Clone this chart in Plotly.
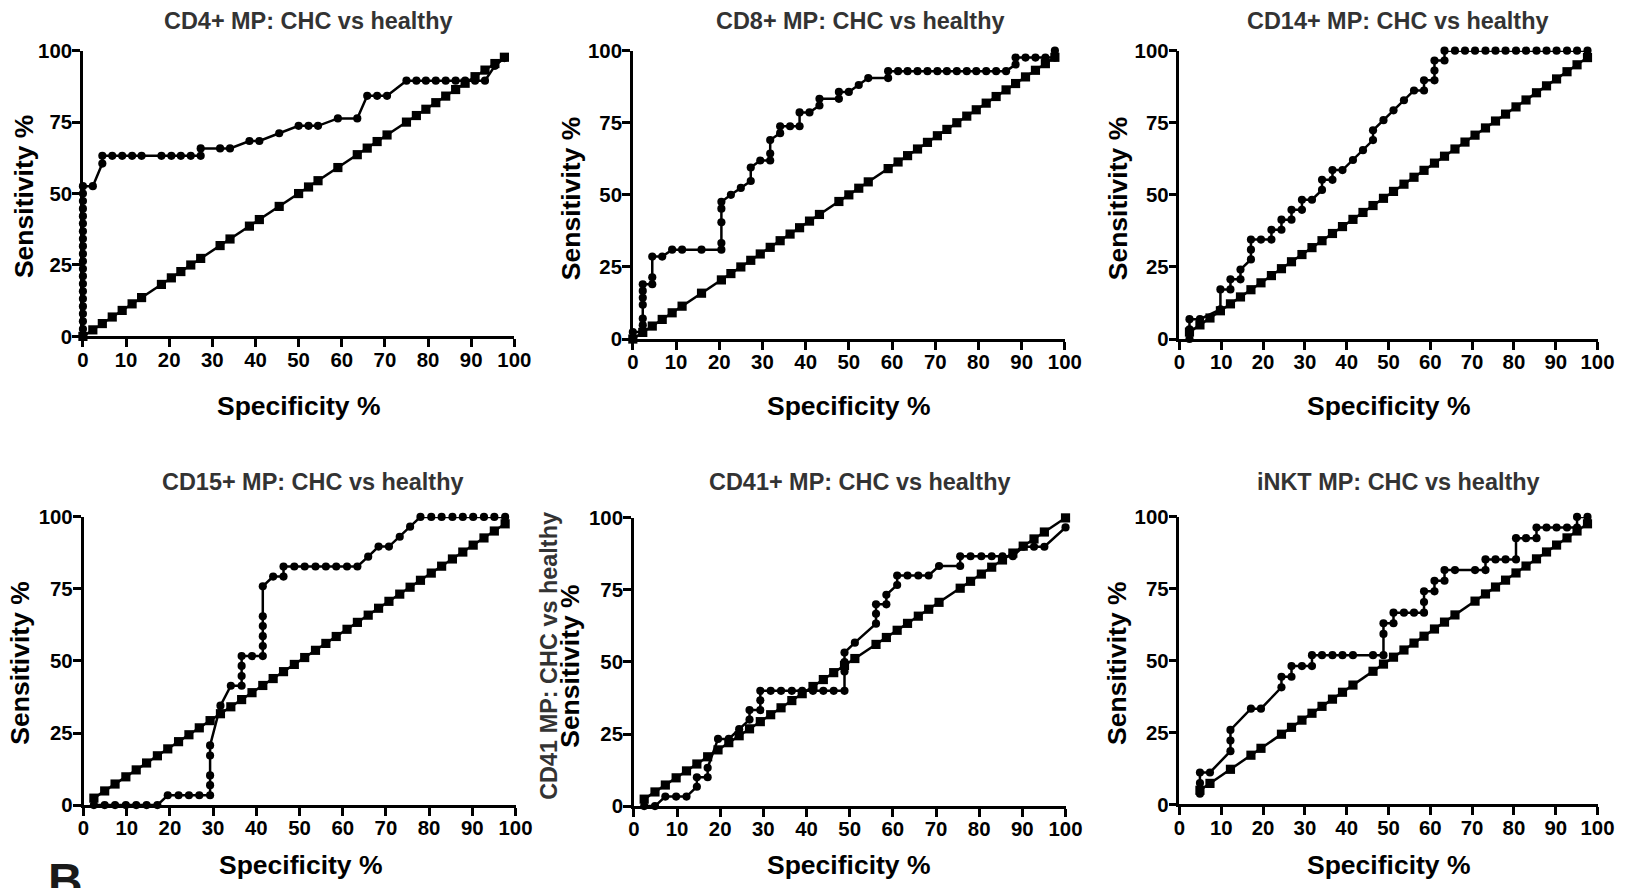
import plotly.graph_objects as go

# ---------------- data ----------------
panel_titles = ["CD4+ MP: CHC vs healthy", "CD8+ MP: CHC vs healthy", "CD14+ MP: CHC vs healthy",
                "CD15+ MP: CHC vs healthy", "CD41+ MP: CHC vs healthy", "iNKT MP: CHC vs healthy"]
x_tick_vals = [0, 10, 20, 30, 40, 50, 60, 70, 80, 90, 100]
y_tick_vals = [0, 25, 50, 75, 100]
x_title = "Specificity %"
y_title = "Sensitivity %"
extra_y_label = "CD41 MP: CHC vs healthy"
panel_letter = "B"

# CD4+
cd4_roc_x = [0, 0, 0, 0, 0, 0, 0, 0, 0, 0, 0, 0, 0, 0, 0, 0, 0, 0, 0, 0, 0, 2.3, 4.5, 4.5, 6.8, 9.1, 11.4,
             13.6, 18.2, 20.5, 22.7, 25.0, 27.3, 27.3, 31.8, 34.1, 38.6, 40.9, 45.5, 50.0, 52.3, 54.5, 59.1,
             63.6, 65.9, 68.2, 70.5, 75.0, 77.3, 79.5, 81.8, 84.1, 86.4, 88.6, 90.9, 93.2, 95.5, 97.7]
cd4_roc_y = [0, 2.6, 5.3, 7.9, 10.5, 13.2, 15.8, 18.4, 21.1, 23.7, 26.3, 28.9, 31.6, 34.2, 36.8, 39.5, 42.1,
             44.7, 47.4, 50.0, 52.6, 52.6, 60.5, 63.2, 63.2, 63.2, 63.2, 63.2, 63.2, 63.2, 63.2, 63.2, 63.2,
             65.8, 65.8, 65.8, 68.4, 68.4, 71.1, 73.7, 73.7, 73.7, 76.3, 76.3, 84.2, 84.2, 84.2, 89.5, 89.5,
             89.5, 89.5, 89.5, 89.5, 89.5, 89.5, 89.5, 94.7, 97.4]
cd4_ref_x = [0, 2.3, 4.5, 6.8, 9.1, 11.4, 13.6, 18.2, 20.5, 22.7, 25.0, 27.3, 31.8, 34.1, 38.6, 40.9, 45.5,
             50.0, 52.3, 54.5, 59.1, 63.6, 65.9, 68.2, 70.5, 75.0, 77.3, 79.5, 81.8, 84.1, 86.4, 88.6, 90.9,
             93.2, 95.5, 97.7]
cd4_ref_y = [0, 2.3, 4.5, 6.8, 9.1, 11.4, 13.6, 18.2, 20.5, 22.7, 25.0, 27.3, 31.8, 34.1, 38.6, 40.9, 45.5,
             50.0, 52.3, 54.5, 59.1, 63.6, 65.9, 68.2, 70.5, 75.0, 77.3, 79.5, 81.8, 84.1, 86.4, 88.6, 90.9,
             93.2, 95.5, 97.7]

# CD8+
cd8_roc_x = [0, 0, 2.3, 2.3, 2.3, 2.3, 2.3, 2.3, 2.3, 4.5, 4.5, 4.5, 6.8, 9.1, 11.4, 15.9, 20.5, 20.5, 20.5,
             20.5, 20.5, 22.7, 25.0, 27.3, 27.3, 29.5, 31.8, 31.8, 31.8, 34.1, 34.1, 36.4, 38.6, 38.6, 40.9,
             43.2, 43.2, 47.7, 47.7, 50.0, 52.3, 54.5, 59.1, 59.1, 61.4, 63.6, 65.9, 68.2, 70.5, 72.7, 75.0,
             77.3, 79.5, 81.8, 84.1, 86.4, 88.6, 88.6, 90.9, 93.2, 95.5, 97.7, 97.7]
cd8_roc_y = [0, 2.4, 2.4, 4.8, 7.1, 11.9, 14.3, 16.7, 19.0, 19.0, 21.4, 28.6, 28.6, 31.0, 31.0, 31.0, 31.0,
             33.3, 40.5, 45.2, 47.6, 50.0, 52.4, 54.8, 59.5, 61.9, 61.9, 64.3, 69.0, 71.4, 73.8, 73.8, 73.8,
             78.6, 78.6, 81.0, 83.3, 83.3, 85.7, 85.7, 88.1, 90.5, 90.5, 92.9, 92.9, 92.9, 92.9, 92.9, 92.9,
             92.9, 92.9, 92.9, 92.9, 92.9, 92.9, 92.9, 95.2, 97.6, 97.6, 97.6, 97.6, 97.6, 100]
cd8_ref_x = [0, 2.3, 4.5, 6.8, 9.1, 11.4, 15.9, 20.5, 22.7, 25.0, 27.3, 29.5, 31.8, 34.1, 36.4, 38.6, 40.9,
             43.2, 47.7, 50.0, 52.3, 54.5, 59.1, 61.4, 63.6, 65.9, 68.2, 70.5, 72.7, 75.0, 77.3, 79.5, 81.8,
             84.1, 86.4, 88.6, 90.9, 93.2, 95.5, 97.7]
cd8_ref_y = [0, 2.3, 4.5, 6.8, 9.1, 11.4, 15.9, 20.5, 22.7, 25.0, 27.3, 29.5, 31.8, 34.1, 36.4, 38.6, 40.9,
             43.2, 47.7, 50.0, 52.3, 54.5, 59.1, 61.4, 63.6, 65.9, 68.2, 70.5, 72.7, 75.0, 77.3, 79.5, 81.8,
             84.1, 86.4, 88.6, 90.9, 93.2, 95.5, 97.7]

# CD14+
cd14_roc_x = [2.4, 2.4, 2.4, 4.9, 9.8, 9.8, 12.2, 12.2, 14.6, 14.6, 17.1, 17.1, 17.1, 19.5, 22.0, 22.0, 24.4,
              24.4, 26.8, 26.8, 29.3, 29.3, 31.7, 34.1, 34.1, 36.6, 36.6, 39.0, 41.5, 43.9, 46.3, 46.3, 48.8,
              51.2, 53.7, 56.1, 58.5, 58.5, 61.0, 61.0, 61.0, 63.4, 63.4, 65.9, 68.3, 70.7, 73.2, 75.6, 78.0,
              80.5, 82.9, 85.4, 87.8, 90.2, 92.7, 95.1, 97.6]
cd14_roc_y = [0, 3.4, 6.9, 6.9, 10.3, 17.2, 17.2, 20.7, 20.7, 24.1, 27.6, 31.0, 34.5, 34.5, 34.5, 37.9, 37.9,
              41.4, 41.4, 44.8, 44.8, 48.3, 48.3, 51.7, 55.2, 55.2, 58.6, 58.6, 62.1, 65.5, 69.0, 72.4, 75.9,
              79.3, 82.8, 86.2, 86.2, 89.7, 89.7, 93.1, 96.6, 96.6, 100, 100, 100, 100, 100, 100, 100, 100,
              100, 100, 100, 100, 100, 100, 100]
cd14_ref_x = [2.4, 4.9, 7.3, 9.8, 12.2, 14.6, 17.1, 19.5, 22.0, 24.4, 26.8, 29.3, 31.7, 34.1, 36.6, 39.0,
              41.5, 43.9, 46.3, 48.8, 51.2, 53.7, 56.1, 58.5, 61.0, 63.4, 65.9, 68.3, 70.7, 73.2, 75.6, 78.0,
              80.5, 82.9, 85.4, 87.8, 90.2, 92.7, 95.1, 97.6]
cd14_ref_y = [2.4, 4.9, 7.3, 9.8, 12.2, 14.6, 17.1, 19.5, 22.0, 24.4, 26.8, 29.3, 31.7, 34.1, 36.6, 39.0,
              41.5, 43.9, 46.3, 48.8, 51.2, 53.7, 56.1, 58.5, 61.0, 63.4, 65.9, 68.3, 70.7, 73.2, 75.6, 78.0,
              80.5, 82.9, 85.4, 87.8, 90.2, 92.7, 95.1, 97.6]

# CD15+
cd15_roc_x = [2.4, 4.9, 7.3, 9.8, 12.2, 14.6, 17.1, 19.5, 22.0, 24.4, 26.8, 29.3, 29.3, 29.3, 29.3, 29.3,
              31.7, 34.1, 36.6, 36.6, 36.6, 36.6, 39.0, 41.5, 41.5, 41.5, 41.5, 41.5, 41.5, 43.9, 46.3, 46.3,
              48.8, 51.2, 53.7, 56.1, 58.5, 61.0, 63.4, 65.9, 68.3, 70.7, 73.2, 75.6, 78.0, 80.5, 82.9, 85.4,
              87.8, 90.2, 92.7, 95.1, 97.6]
cd15_roc_y = [0, 0, 0, 0, 0, 0, 0, 3.4, 3.4, 3.4, 3.4, 3.4, 6.9, 10.3, 17.2, 20.7, 34.5, 41.4, 41.4, 44.8,
              48.3, 51.7, 51.7, 51.7, 55.2, 58.6, 62.1, 65.5, 75.9, 79.3, 79.3, 82.8, 82.8, 82.8, 82.8, 82.8,
              82.8, 82.8, 82.8, 86.2, 89.7, 89.7, 93.1, 96.6, 100, 100, 100, 100, 100, 100, 100, 100, 100]
cd15_ref_x = [2.4, 4.9, 7.3, 9.8, 12.2, 14.6, 17.1, 19.5, 22.0, 24.4, 26.8, 29.3, 31.7, 34.1, 36.6, 39.0,
              41.5, 43.9, 46.3, 48.8, 51.2, 53.7, 56.1, 58.5, 61.0, 63.4, 65.9, 68.3, 70.7, 73.2, 75.6, 78.0,
              80.5, 82.9, 85.4, 87.8, 90.2, 92.7, 95.1, 97.6]
cd15_ref_y = [2.4, 4.9, 7.3, 9.8, 12.2, 14.6, 17.1, 19.5, 22.0, 24.4, 26.8, 29.3, 31.7, 34.1, 36.6, 39.0,
              41.5, 43.9, 46.3, 48.8, 51.2, 53.7, 56.1, 58.5, 61.0, 63.4, 65.9, 68.3, 70.7, 73.2, 75.6, 78.0,
              80.5, 82.9, 85.4, 87.8, 90.2, 92.7, 95.1, 97.6]

# CD41+
cd41_roc_x = [2.4, 4.9, 7.3, 9.8, 12.2, 14.6, 14.6, 17.1, 17.1, 19.5, 22.0, 24.4, 26.8, 26.8, 29.3, 29.3,
              29.3, 31.7, 34.1, 36.6, 39.0, 41.5, 43.9, 46.3, 48.8, 48.8, 48.8, 48.8, 51.2, 56.1, 56.1, 56.1,
              58.5, 58.5, 61.0, 61.0, 63.4, 65.9, 68.3, 70.7, 75.6, 75.6, 78.0, 80.5, 82.9, 85.4, 87.8, 90.2,
              92.7, 95.1, 100]
cd41_roc_y = [0, 0, 3.3, 3.3, 3.3, 6.7, 10.0, 10.0, 13.3, 23.3, 23.3, 26.7, 30.0, 33.3, 33.3, 36.7, 40.0,
              40.0, 40.0, 40.0, 40.0, 40.0, 40.0, 40.0, 40.0, 46.7, 50.0, 53.3, 56.7, 63.3, 66.7, 70.0, 70.0,
              73.3, 76.7, 80.0, 80.0, 80.0, 80.0, 83.3, 83.3, 86.7, 86.7, 86.7, 86.7, 86.7, 86.7, 90.0, 90.0,
              90.0, 96.7]
cd41_ref_x = [2.4, 4.9, 7.3, 9.8, 12.2, 14.6, 17.1, 19.5, 22.0, 24.4, 26.8, 29.3, 31.7, 34.1, 36.6, 39.0,
              41.5, 43.9, 46.3, 48.8, 51.2, 56.1, 58.5, 61.0, 63.4, 65.9, 68.3, 70.7, 75.6, 78.0, 80.5, 82.9,
              85.4, 87.8, 90.2, 92.7, 95.1, 100]
cd41_ref_y = [2.4, 4.9, 7.3, 9.8, 12.2, 14.6, 17.1, 19.5, 22.0, 24.4, 26.8, 29.3, 31.7, 34.1, 36.6, 39.0,
              41.5, 43.9, 46.3, 48.8, 51.2, 56.1, 58.5, 61.0, 63.4, 65.9, 68.3, 70.7, 75.6, 78.0, 80.5, 82.9,
              85.4, 87.8, 90.2, 92.7, 95.1, 100]

# iNKT
inkt_roc_x = [4.9, 4.9, 4.9, 7.3, 12.2, 12.2, 12.2, 17.1, 19.5, 24.4, 24.4, 26.8, 26.8, 29.3, 31.7, 31.7,
              34.1, 36.6, 39.0, 41.5, 46.3, 48.8, 48.8, 48.8, 51.2, 51.2, 53.7, 56.1, 58.5, 58.5, 58.5, 61.0,
              61.0, 63.4, 63.4, 65.9, 70.7, 73.2, 73.2, 75.6, 78.0, 80.5, 80.5, 82.9, 85.4, 85.4, 87.8, 90.2,
              92.7, 95.1, 95.1, 97.6]
inkt_roc_y = [3.7, 7.4, 11.1, 11.1, 18.5, 22.2, 25.9, 33.3, 33.3, 40.7, 44.4, 44.4, 48.1, 48.1, 48.1, 51.9,
              51.9, 51.9, 51.9, 51.9, 51.9, 51.9, 59.3, 63.0, 63.0, 66.7, 66.7, 66.7, 66.7, 70.4, 74.1, 74.1,
              77.8, 77.8, 81.5, 81.5, 81.5, 81.5, 85.2, 85.2, 85.2, 85.2, 92.6, 92.6, 92.6, 96.3, 96.3, 96.3,
              96.3, 96.3, 100, 100]
inkt_ref_x = [4.9, 7.3, 12.2, 17.1, 19.5, 24.4, 26.8, 29.3, 31.7, 34.1, 36.6, 39.0, 41.5, 46.3, 48.8, 51.2,
              53.7, 56.1, 58.5, 61.0, 63.4, 65.9, 70.7, 73.2, 75.6, 78.0, 80.5, 82.9, 85.4, 87.8, 90.2, 92.7,
              95.1, 97.6]
inkt_ref_y = [4.9, 7.3, 12.2, 17.1, 19.5, 24.4, 26.8, 29.3, 31.7, 34.1, 36.6, 39.0, 41.5, 46.3, 48.8, 51.2,
              53.7, 56.1, 58.5, 61.0, 63.4, 65.9, 70.7, 73.2, 75.6, 78.0, 80.5, 82.9, 85.4, 87.8, 90.2, 92.7,
              95.1, 97.6]

panels_data = [
    (cd4_roc_x, cd4_roc_y, cd4_ref_x, cd4_ref_y),
    (cd8_roc_x, cd8_roc_y, cd8_ref_x, cd8_ref_y),
    (cd14_roc_x, cd14_roc_y, cd14_ref_x, cd14_ref_y),
    (cd15_roc_x, cd15_roc_y, cd15_ref_x, cd15_ref_y),
    (cd41_roc_x, cd41_roc_y, cd41_ref_x, cd41_ref_y),
    (inkt_roc_x, inkt_roc_y, inkt_ref_x, inkt_ref_y),
]

# ---------------- layout: target positions in the final 1632x888 picture ----------------
W, H = 1632, 888
boxes = [  # plot areas: (left, right, top, bottom)
    (82.7, 514.0, 50.7, 336.7),
    (632.5, 1064.4, 50.7, 339.3),
    (1179.0, 1597.0, 50.7, 339.3),
    (83.3, 515.2, 517.3, 805.7),
    (633.5, 1065.1, 518.3, 806.7),
    (1179.0, 1597.0, 517.3, 805.0),
]
title_pos = [(308, 21), (860, 21), (1398, 21), (313, 482), (860, 482), (1398, 482)]
xtitle_pos = [(298, 406), (848, 406), (1388, 406), (300, 866), (848, 866), (1388, 866)]
ytitle_pos = [(24, 197), (571, 199), (1117, 199), (20, 664), (570, 667), (1117, 664)]

# the captured page shows up slightly inset/squeezed; map picture targets back to page pixels
X_OFF, X_SCALE = 5.8, 0.9857
Y_OFF, Y_SCALE = 11.0, 0.976
SZ = 1 / ((X_SCALE + Y_SCALE) / 2)   # size compensation for fonts and markers

FONT = "Liberation Sans, Arial, sans-serif"


def px_x(v):
    return ((v - X_OFF) / X_SCALE) / W


def px_y(v):
    return 1 - ((v - Y_OFF) / Y_SCALE) / H


fig = go.Figure()
annotations = []
for i, (rx, ry, qx, qy) in enumerate(panels_data):
    n = i + 1
    xa = "x" if n == 1 else f"x{n}"
    ya = "y" if n == 1 else f"y{n}"
    fig.add_trace(go.Scatter(x=qx, y=qy, xaxis=xa, yaxis=ya, mode="lines+markers",
                             line=dict(color="black", width=2.5),
                             marker=dict(symbol="square", size=9 * SZ, color="black"),
                             cliponaxis=False, showlegend=False, hoverinfo="x+y"))
    fig.add_trace(go.Scatter(x=rx, y=ry, xaxis=xa, yaxis=ya, mode="lines+markers",
                             line=dict(color="black", width=2.5),
                             marker=dict(symbol="circle", size=8 * SZ, color="black"),
                             cliponaxis=False, showlegend=False, hoverinfo="x+y"))
    l, r, t, b = boxes[i]
    axis_common = dict(showline=True, linecolor="black", linewidth=2.5, ticks="outside",
                       ticklen=8, tickwidth=2.5, tickcolor="black", showgrid=False, zeroline=False,
                       tickfont=dict(family=FONT, size=20 * SZ, color="black", weight="bold"),
                       fixedrange=True)
    fig.update_layout(**{
        ("xaxis" if n == 1 else f"xaxis{n}"): dict(
            domain=[px_x(l), px_x(r)], range=[0, 100], tickvals=x_tick_vals,
            ticktext=[f"<b>{v}</b>" for v in x_tick_vals], anchor=ya, ticklabelstandoff=-5,
            **axis_common),
        ("yaxis" if n == 1 else f"yaxis{n}"): dict(
            domain=[px_y(b), px_y(t)], range=[0, 100], tickvals=y_tick_vals,
            ticktext=[f"<b>{v}</b>" for v in y_tick_vals], anchor=xa, ticklabelstandoff=-4,
            **axis_common),
    })
    tx, ty = title_pos[i]
    annotations.append(dict(text=panel_titles[i], x=px_x(tx), y=px_y(ty), xref="paper", yref="paper",
                            xanchor="center", yanchor="middle", showarrow=False,
                            font=dict(family=FONT, size=23 * SZ, color="#333333", weight="bold")))
    xx, xy = xtitle_pos[i]
    annotations.append(dict(text=x_title, x=px_x(xx), y=px_y(xy), xref="paper", yref="paper",
                            xanchor="center", yanchor="middle", showarrow=False,
                            font=dict(family=FONT, size=26 * SZ, color="black", weight="bold")))
    yx, yy = ytitle_pos[i]
    annotations.append(dict(text=y_title, x=px_x(yx), y=px_y(yy), xref="paper", yref="paper",
                            xanchor="center", yanchor="middle", showarrow=False, textangle=-90,
                            font=dict(family=FONT, size=26 * SZ, color="black", weight="bold")))

# leftover label overlapping the CD41 panel's y title
annotations.append(dict(text=extra_y_label, x=px_x(549), y=px_y(656), xref="paper", yref="paper",
                        xanchor="center", yanchor="middle", showarrow=False, textangle=-90,
                        font=dict(family=FONT, size=23 * SZ, color="#333333", weight="bold")))
# panel letter "B" cut at the bottom edge
annotations.append(dict(text=panel_letter, x=px_x(46), y=px_y(853), xref="paper", yref="paper",
                        xanchor="left", yanchor="top", showarrow=False,
                        font=dict(family=FONT, size=47 * SZ, color="#1a1a1a", weight="bold")))

fig.update_layout(width=W, height=H, margin=dict(l=0, r=0, t=0, b=0),
                  paper_bgcolor="white", plot_bgcolor="white", annotations=annotations,
                  showlegend=False)

fig.write_html("out.html", config={"displayModeBar": False},
               post_script="document.body.style.margin='0';document.body.style.overflow='hidden';")
